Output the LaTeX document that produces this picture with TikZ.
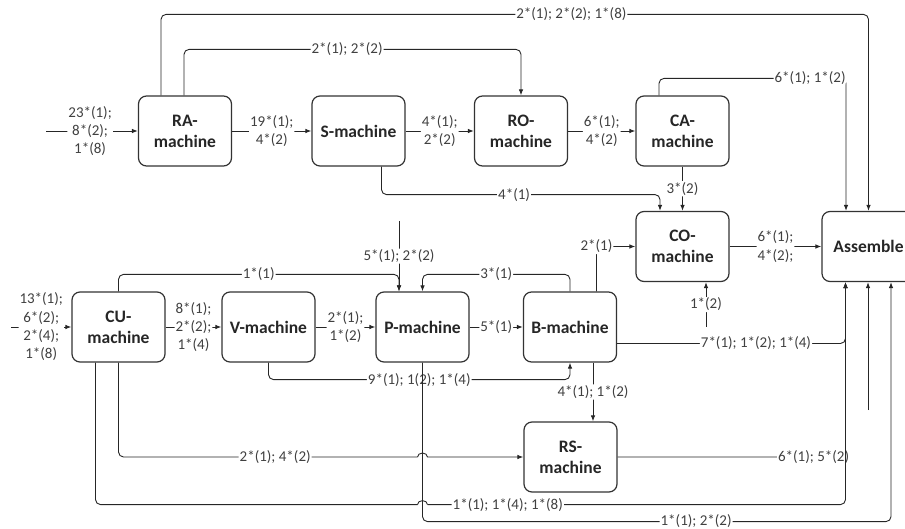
\documentclass[tikz,border=0pt]{standalone}
\usepackage{fontspec}
\setmainfont{Carlito}
\usetikzlibrary{arrows.meta,calc}
\begin{document}
\begin{tikzpicture}[x=1pt,y=-1pt,
 box/.style={draw=black!80, line width=1.2pt, rounded corners=8pt, minimum width=93pt, minimum height=70pt, align=center, font=\fontsize{17.5}{21}\selectfont\bfseries, text=black!85, inner sep=0pt},
 conn/.style={draw=black!85, line width=0.9pt, rounded corners=5pt},
 arr/.style={conn, -{Latex[length=6pt,width=4.5pt]}},
 lbl/.style={fill=white, inner sep=1pt, align=center, font=\fontsize{15}{18.3}\selectfont, text=black!75},
]
\useasboundingbox (0,0) rectangle (905,529);

\node[box] (RA) at (185,131) {RA-\\machine};
\node[box] (S) at (358.5,131) {S-machine};
\node[box] (RO) at (521,131) {RO-\\machine};
\node[box] (CA) at (682.5,131) {CA-\\machine};
\node[box] (CO) at (682.5,246.5) {CO-\\machine};
\node[box] (AS) at (868.5,246.5) {Assemble};
\node[box] (CU) at (118.5,327) {CU-\\machine};
\node[box] (V) at (268.5,327) {V-machine};
\node[box] (P) at (422.5,327) {P-machine};
\node[box] (B) at (570,327) {B-machine};
\node[box] (RS) at (570.5,457) {RS-\\machine};

\coordinate (inRA) at (46,131);
\coordinate (inCU) at (11,327);
\coordinate (inP) at (399,221);
\coordinate (inCO) at (706,327);
\coordinate (inAS) at (868,410);

% top row
\draw[arr] (inRA) -- node[lbl,pos=0.48] (l1) {23*(1);\\8*(2);\\1*(8)} (RA.west);
\draw[arr] (RA.east) -- node[lbl] (l2) {19*(1);\\4*(2)} (S.west);
\draw[arr] (S.east) -- node[lbl] (l3) {4*(1);\\2*(2)} (RO.west);
\draw[arr] (RO.east) -- node[lbl] (l4) {6*(1);\\4*(2)} (CA.west);
\draw[arr] ([xshift=-24pt]RA.north) -- ++(0,-81) -| node[lbl,pos=0.29] (l5) {2*(1); 2*(2); 1*(8)} (AS.north);
\draw[arr] ([xshift=-1pt]RA.north) -- ++(0,-46) -| node[lbl,pos=0.242] (l6) {2*(1); 2*(2)} (RO.north);
\draw[arr] ([xshift=-23.5pt]CA.north) -- ++(0,-17) -| node[lbl,pos=0.404] (l7) {6*(1); 1*(2)} ([xshift=-22.5pt]AS.north);
\draw[arr] ([xshift=23pt]S.south) -- ++(0,28) -| node[lbl,pos=0.238] (l8) {4*(1)} ([xshift=-22.5pt]CO.north);
\draw[arr] (CA.south) -- node[lbl] (l9) {3*(2)} (CO.north);
\draw[arr] (CO.east) -- node[lbl] (l10) {6*(1);\\4*(2);} (AS.west);
\draw[arr] (inCO) -- node[lbl] (l11) {1*(2)} (CO.south -| inCO);

% middle row
\draw[arr] (inCU) -- node[lbl] (l12) {13*(1);\\6*(2);\\2*(4);\\1*(8)} (CU.west);
\draw[arr] (CU.east) -- node[lbl] (l13) {8*(1);\\2*(2);\\1*(4)} (V.west);
\draw[arr] (V.east) -- node[lbl] (l14) {2*(1);\\1*(2)} (P.west);
\draw[arr] (P.east) -- node[lbl] (l15) {5*(1)} (B.west);
\draw[arr] (inP) -- node[lbl] (l16) {5*(1); 2*(2)} (P.north -| inP);
\draw[arr] (CU.north) -- ++(0,-17) -| node[lbl,pos=0.25] (l17) {1*(1)} (P.north -| inP);
\draw[arr] (B.north) -- ++(0,-17) -| node[lbl,pos=0.25] (l18) {3*(1)} (P.north);
\draw[arr] ([xshift=26.5pt]B.north) |- node[lbl,pos=0.5] (l19) {2*(1)} (CO.west);
\draw[arr] (V.south) -- ++(0,17) -| node[lbl,pos=0.25] (l20) {9*(1); 1(2); 1*(4)} (B.south);
\draw[arr] ([yshift=-16.5pt]B.east) -| node[lbl,pos=0.304] (l21) {7*(1); 1*(2); 1*(4)} ([xshift=-23pt]AS.south);
\draw[arr] ([xshift=23pt]B.south) -- node[lbl] (l22) {4*(1); 1*(2)} ([xshift=23pt]B.south |- RS.north);
\draw[arr] (RS.east) -| node[lbl,pos=0.43] (l23) {6*(1); 5*(2)} ([xshift=-23pt]AS.south);

% bottom rails
\draw[arr] (P.south) -- ++(0,159) -| node[lbl,pos=0.292,yshift=0.5pt,inner ysep=0pt] (l24) {1*(1); 2*(2)} ([xshift=22.5pt]AS.south);
\draw[conn] (CU.south) |- node[lbl,pos=0.762] (l25) {2*(1); 4*(2)} ([xshift=-5pt]P.south |- RS.west);
\draw[conn,sharp corners,-{Latex[length=6pt,width=4.5pt]}] ([xshift=-5pt]P.south |- RS.west) arc[start angle=180,end angle=360,x radius=5,y radius=4] -- (RS.west);
\path ([xshift=-23pt]CU.south) ++(0,142) coordinate (c1);
\draw[conn] ([xshift=-23pt]CU.south) -- (c1) -- ([xshift=-5pt]P.south |- c1);
\draw[conn,sharp corners] ([xshift=-5pt]P.south |- c1) arc[start angle=180,end angle=360,x radius=5,y radius=4];
\draw[arr] ([xshift=5pt]P.south |- c1) -| node[lbl,pos=0.096] (l26) {1*(1); 1*(4); 1*(8)} ([xshift=-23pt]AS.south);
\draw[arr] (inAS) -- (AS.south -| inAS);
\end{tikzpicture}
\end{document}
